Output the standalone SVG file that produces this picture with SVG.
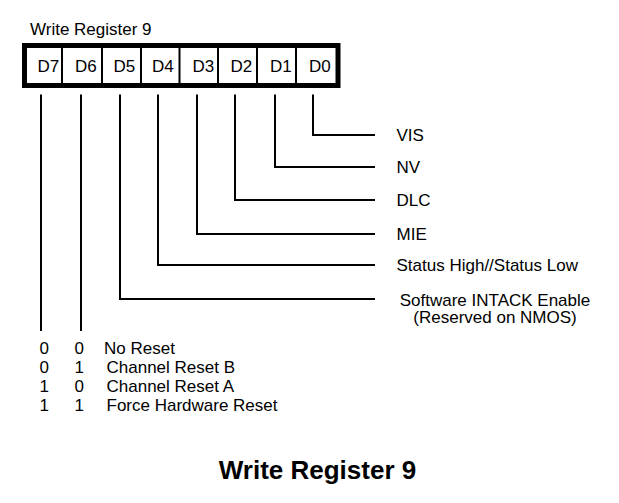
<svg xmlns="http://www.w3.org/2000/svg" width="619" height="503" viewBox="0 0 619 503">
<style>
text{font-family:"Liberation Sans",Arial,sans-serif;font-size:17px;fill:#000}
.ln{fill:none;stroke:#000;stroke-width:2;stroke-linejoin:miter;stroke-linecap:butt}
.title{font-size:26px;font-weight:bold}
</style>
<rect width="619" height="503" fill="#fff"/>
<text x="30" y="35">Write Register 9</text>
<g id="register">
<rect x="24.5" y="45.5" width="313.5" height="40" fill="#fff" stroke="#000" stroke-width="5"/>
<path class="ln" d="M62 48V83M102 48V83M141 48V83M179.5 48V83M218 48V83M257 48V83M296 48V83"/>
<text x="37.5" y="72">D7</text>
<text x="75" y="72">D6</text>
<text x="113.5" y="72">D5</text>
<text x="152" y="72">D4</text>
<text x="192.5" y="72">D3</text>
<text x="230.5" y="72">D2</text>
<text x="270" y="72">D1</text>
<text x="309" y="72">D0</text>
</g>
<g id="connectors">
<polyline class="ln" points="313,94.5 313,135 375,135"/>
<polyline class="ln" points="275,94.5 275,167 375,167"/>
<polyline class="ln" points="235,94.5 235,200 375,200"/>
<polyline class="ln" points="197,94.5 197,234 375,234"/>
<polyline class="ln" points="158,94.5 158,265 375,265"/>
<polyline class="ln" points="120,94.5 120,299 375,299"/>
<line class="ln" x1="41" y1="94.5" x2="41" y2="331"/>
<line class="ln" x1="81" y1="94.5" x2="81" y2="331"/>
</g>
<g id="vis"><text x="396.5" y="141">VIS</text></g>
<g id="nv"><text x="396.5" y="173">NV</text></g>
<g id="dlc"><text x="396.5" y="206">DLC</text></g>
<g id="mie"><text x="396.5" y="240">MIE</text></g>
<g id="status"><text x="396.5" y="271">Status High//Status Low</text></g>
<g id="intack">
<text x="495" y="305.5" text-anchor="middle">Software INTACK Enable</text>
<text x="495" y="323" text-anchor="middle">(Reserved on NMOS)</text>
</g>
<g id="reset-table">
<text x="39.5" y="353.5">0</text><text x="74.5" y="353.5">0</text><text x="104" y="353.5">No Reset</text>
<text x="39.5" y="372.5">0</text><text x="74.5" y="372.5">1</text><text x="106.5" y="372.5">Channel Reset B</text>
<text x="39.5" y="391.5">1</text><text x="74.5" y="391.5">0</text><text x="106.5" y="391.5">Channel Reset A</text>
<text x="39.5" y="411">1</text><text x="74.5" y="411">1</text><text x="106.5" y="411">Force Hardware Reset</text>
</g>
<text class="title" x="317.5" y="479" text-anchor="middle">Write Register 9</text>
</svg>
